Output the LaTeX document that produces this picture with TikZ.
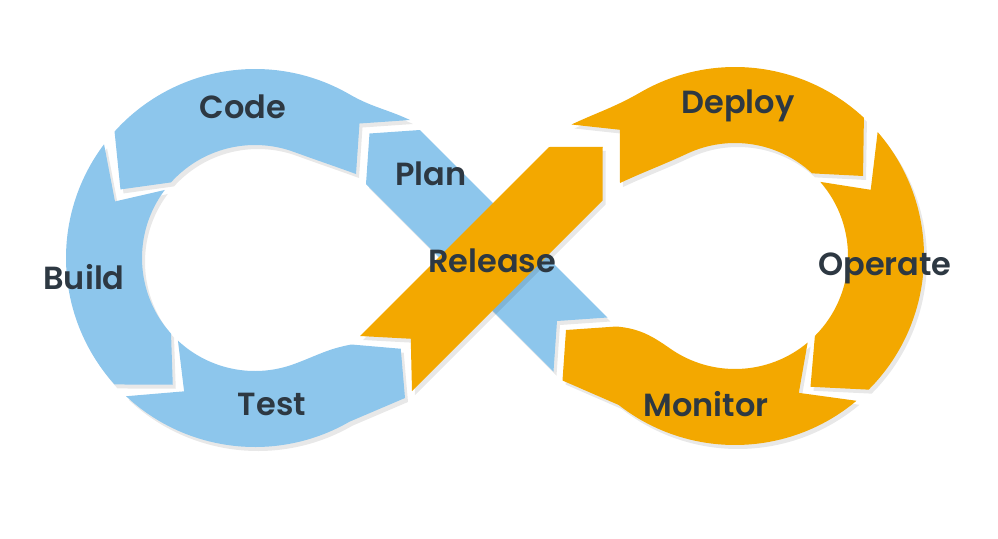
\documentclass[tikz,border=0pt]{standalone}
\usepackage{fontspec}
\newfontfamily\lblfont{Poppins SemiBold}
\usepackage{tikz}
\usetikzlibrary{calc}
\definecolor{loopblue}{RGB}{141, 198, 236}
\definecolor{looporange}{RGB}{243, 168, 0}
\definecolor{lbltext}{RGB}{45, 56, 66}
\tikzset{
  shade/.style={preaction={fill=black, opacity=0.09, transform canvas={xshift=1.5pt, yshift=-2pt}}},
  bluearr/.style={fill=loopblue, shade},
  orangearr/.style={fill=looporange, shade},
  lbl/.style={font=\lblfont\fontsize{16}{19}\selectfont, text=lbltext}
}

\begin{document}
\begin{tikzpicture}[x=0.5pt, y=0.5pt]
  \useasboundingbox (0,0) rectangle (998,538);
  \coordinate (L) at (255,280);
  \coordinate (R) at (735,282);

  % Left loop: Code, Build, Test
  \fill[bluearr] (410,418) to[out=155, in=-30] ($(L)+(60:189)$)
    arc[start angle=60, end angle=138, radius=189] -- ($(L)+(153:151)$)
    -- ($(L)+(138:113)$) arc[start angle=138, end angle=70, radius=113]
    to[out=-20, in=160] (356,364) -- (359.5,414.5) -- cycle;
  \fill[bluearr] ($(L)+(143:189)$) arc[start angle=143, end angle=222, radius=189]
    -- ($(L)+(237:151)$) -- ($(L)+(222:113)$)
    arc[start angle=222, end angle=143, radius=113] -- ($(L)+(158:151)$) -- cycle;
  \fill[bluearr] ($(L)+(227:189)$) arc[start angle=227, end angle=300, radius=189]
    -- (405,140) -- (400.75,189.25) -- (351.5,193.5)
    to[out=190, in=20] ($(L)+(290:113)$)
    arc[start angle=290, end angle=227, radius=113] -- ($(L)+(242:151)$) -- cycle;

  % Crossing: Plan under Release
  \fill[bluearr] (420,408) -- (607.5,220.5) -- (557,217) -- (553.5,166.5)
    -- (366,354) -- (369.5,404.5) -- cycle;
  \fill[orangearr] (360,202) -- (549,391) -- (602.75,391.25) -- (602.5,337.5)
    -- (412,147) -- (410.75,199.25) -- cycle;

  % Right loop: Deploy, Operate, Monitor
  \fill[orangearr] (571.5,413.5) to[out=25, in=210] ($(R)+(120:189)$)
    arc[start angle=120, end angle=47, radius=189] -- ($(R)+(32:151)$)
    -- ($(R)+(47:113)$) arc[start angle=47, end angle=115, radius=113]
    to[out=205, in=25] (620,355) -- (619.75,408.25) -- cycle;
  \fill[orangearr] ($(R)+(41:189)$) arc[start angle=41, end angle=-45, radius=189]
    -- ($(R)+(-60:151)$) -- ($(R)+(-45:113)$)
    arc[start angle=-45, end angle=41, radius=113] -- ($(R)+(26:151)$) -- cycle;
  \fill[orangearr] ($(R)+(-50:189)$) arc[start angle=-50, end angle=-128, radius=189]
    -- (562.5,157.5) -- (566,208) -- (616.5,211.5)
    to[out=-5, in=145] ($(R)+(235:113)$)
    arc[start angle=235, end angle=310, radius=113] -- ($(R)+(-65:151)$) -- cycle;

  % Labels
  \node[lbl] (code) at (243,431) {Code};
  \node[lbl] (plan) at (431,364) {Plan};
  \node[lbl] (build) at (84,261) {Build};
  \node[lbl] (release) at (492,277) {Release};
  \node[lbl] (test) at (272,134) {Test};
  \node[lbl] (deploy) at (738,432) {Deploy};
  \node[lbl] (operate) at (885,270) {Operate};
  \node[lbl] (monitor) at (706,134) {Monitor};
\end{tikzpicture}
\end{document}
